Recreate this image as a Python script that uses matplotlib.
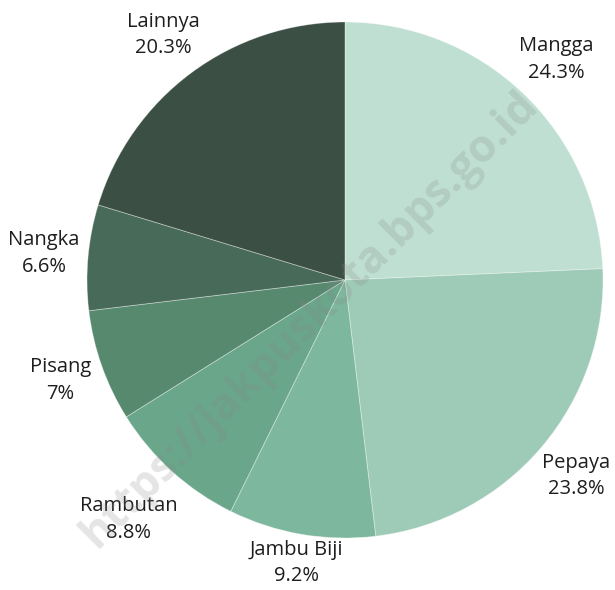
import numpy as np
import matplotlib.pyplot as plt

buah = ['Mangga', 'Pepaya', 'Jambu Biji', 'Rambutan', 'Pisang', 'Nangka', 'Lainnya']
persen = [24.3, 23.8, 9.2, 8.8, 7, 6.6, 20.3]
warna = ['#bfdfd2', '#9ecbb7', '#7db79d', '#69a68a', '#57896f', '#486a59', '#3b4f44']

plt.rcParams['font.family'] = ['Open Sans', 'DejaVu Sans']

fig = plt.figure(figsize=(6.15, 5.9), dpi=100)
ax = fig.add_axes([0, 0, 1, 1])

pusat = (345, 310)
r = 258
wedges, _ = ax.pie(persen, colors=warna, startangle=90, counterclock=False,
                   center=pusat, radius=r, frame=True,
                   wedgeprops={'edgecolor': (1, 1, 1, 0.4), 'linewidth': 0.6})

# jarak label dari pusat (px)
jarak = [305, 303, 287, 323, 302, 302, 305]
for w, b, p, d in zip(wedges, buah, persen, jarak):
    sudut = np.deg2rad((w.theta1 + w.theta2) / 2)
    ax.text(pusat[0] + d * np.cos(sudut), pusat[1] + d * np.sin(sudut), f"{b}\n{p:g}%",
            ha='center', va='center', fontsize=14.5, color='#1e1e1e', linespacing=1.45)

ax.set_xlim(0, 615)
ax.set_ylim(0, 590)
ax.set_aspect('equal')
ax.axis('off')

# watermark
ax.text(310, 270, 'https://jakpuskota.bps.go.id', fontsize=32, fontweight='bold',
        color='#888888', alpha=0.22, rotation=45, ha='center', va='center')

fig.savefig('out.png', dpi=100)
